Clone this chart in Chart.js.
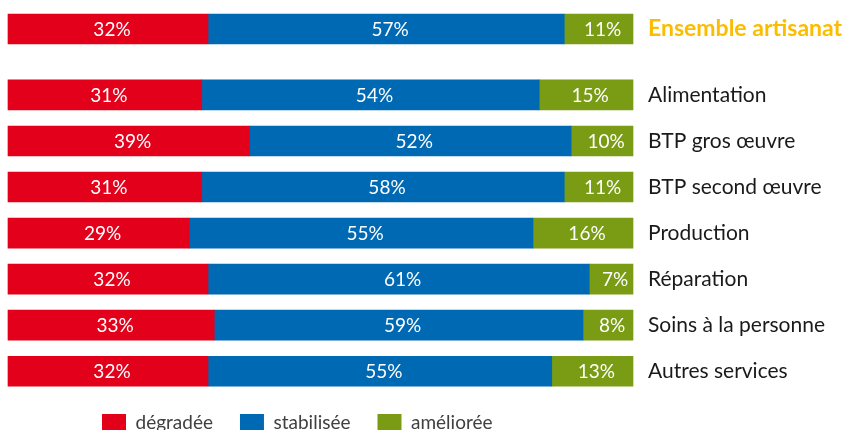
<!DOCTYPE html>
<html>
<head>
<meta charset="utf-8">
<script src="https://cdn.jsdelivr.net/npm/chart.js@4"></script>
<style>
  html, body { margin: 0; padding: 0; background: #fff; }
  #wrap { width: 849px; height: 430px; }
</style>
</head>
<body>
<div id="wrap"><canvas id="chart"></canvas></div>
<script>
const categories = ['Ensemble artisanat', 'Alimentation', 'BTP gros œuvre', 'BTP second œuvre',
    'Production', 'Réparation', 'Soins à la personne', 'Autres services'];
const seriesNames = ['dégradée', 'stabilisée', 'améliorée'];
const degradee = [32, 31, 39, 31, 29, 32, 33, 32];
const stabilisee = [57, 54, 52, 58, 55, 61, 59, 55];
const amelioree = [11, 15, 10, 11, 16, 7, 8, 13];

const series = [degradee, stabilisee, amelioree];
const colors = ['#e2001a', '#0069b4', '#7a9c15'];
const FONT = 'Lato, "Open Sans", sans-serif';

// the first row (total) sits a bit apart from the sectors
function rowPos(i) {
    return i + (i > 0 ? 0.43 : 0);
}

function rowTotal(i) {
    return series.reduce((s, arr) => s + arr[i], 0);
}

const datasets = series.map((arr, d) => ({
    label: seriesNames[d],
    data: arr.map((v, i) => ({ x: v / rowTotal(i) * 100, y: rowPos(i) })),
    backgroundColor: colors[d],
    borderWidth: 0,
    barThickness: 30,
    clip: false
}));

// white percentages in the middle of each segment
const valueLabels = {
    id: 'valueLabels',
    afterDatasetsDraw(chart) {
        const ctx = chart.ctx;
        ctx.save();
        ctx.fillStyle = '#ffffff';
        ctx.font = '19px ' + FONT;
        ctx.textAlign = 'center';
        ctx.textBaseline = 'middle';
        chart.data.datasets.forEach((ds, d) => {
            chart.getDatasetMeta(d).data.forEach((el, i) => {
                const cx = (el.x + el.base) / 2 + 4;
                ctx.fillText(series[d][i] + '%', cx, el.y + 1);
            });
        });
        ctx.restore();
    }
};

// move the legend under the bars, like the original
const legendShift = {
    id: 'legendShift',
    afterLayout(chart) {
        const lg = chart.legend;
        const dx = 102 - (lg.left + lg.options.labels.padding);
        lg.left += dx;
        lg.right += dx;
    }
};

new Chart(document.getElementById('chart'), {
    type: 'bar',
    data: { datasets: datasets },
    options: {
        indexAxis: 'y',
        responsive: true,
        maintainAspectRatio: false,
        animation: false,
        layout: { padding: { left: 8, top: 6, right: 0, bottom: -12 } },
        scales: {
            x: { type: 'linear', stacked: true, min: 0, max: 100, display: false },
            y: {
                type: 'linear',
                position: 'right',
                stacked: true,
                reverse: true,
                offset: false,
                min: -0.5,
                max: 7.75,
                grid: { display: false, drawTicks: false },
                border: { display: false },
                afterBuildTicks(scale) {
                    scale.ticks = categories.map((c, i) => ({ value: rowPos(i) }));
                },
                afterFit(scale) {
                    scale.width = 216;
                    scale.paddingTop = 0;
                    scale.paddingBottom = 0;
                    scale.getPadding = () => ({ left: 0, top: 0, right: 0, bottom: 0 });
                },
                ticks: {
                    autoSkip: false,
                    padding: 15,
                    callback: (value, index) => categories[index],
                    color: (c) => c.index === 0 ? '#fbbd00' : '#1a1a1a',
                    font: (c) => c.index === 0
                        ? { family: FONT, size: 23, weight: 'bold' }
                        : { family: FONT, size: 21 }
                }
            }
        },
        plugins: {
            legend: {
                position: 'bottom',
                align: 'start',
                labels: {
                    boxWidth: 24,
                    boxHeight: 17,
                    padding: 27,
                    color: '#404040',
                    font: { family: FONT, size: 19 }
                }
            },
            tooltip: { enabled: false }
        }
    },
    plugins: [valueLabels, legendShift]
});
</script>
</body>
</html>
